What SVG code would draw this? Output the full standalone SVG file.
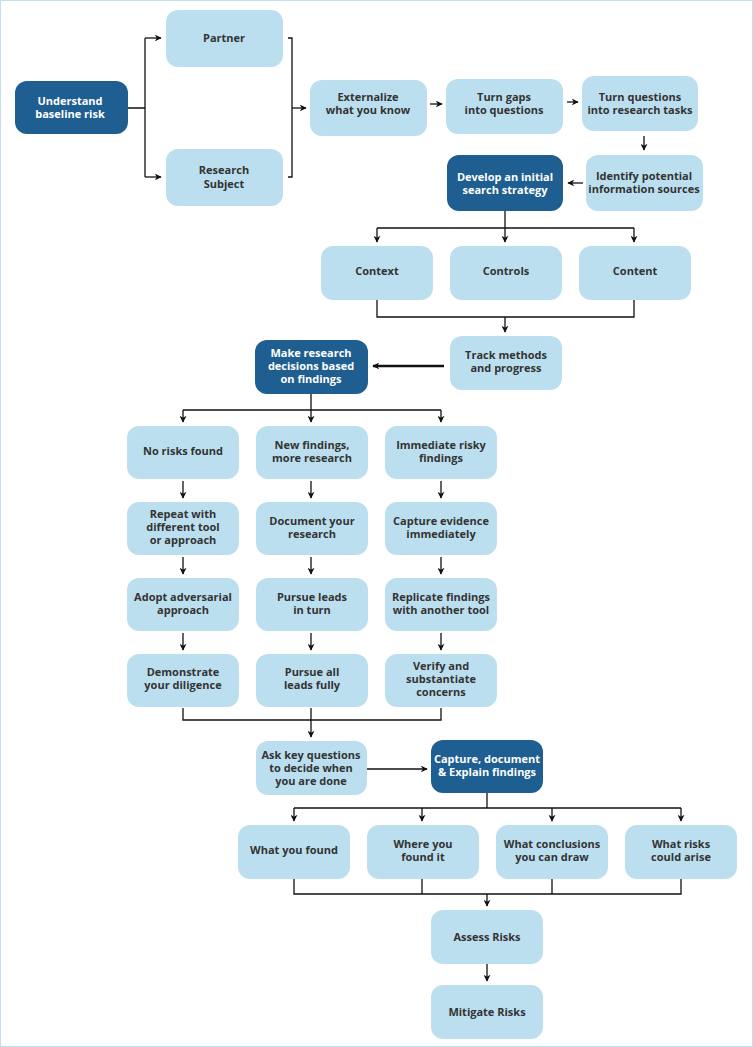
<svg xmlns="http://www.w3.org/2000/svg" width="753" height="1047" viewBox="0 0 753 1047">
<defs>
<marker id="a" viewBox="0 0 10 10" refX="9" refY="5" markerWidth="7" markerHeight="7" orient="auto" markerUnits="userSpaceOnUse"><path d="M0,0 L10,5 L0,10 L3,5 z" fill="#111"/></marker>
<style>
.l rect{fill:#bcdff0}
.d rect{fill:#1f5e90}
text{font-family:"Open Sans","Liberation Sans",sans-serif;font-size:11px;font-weight:bold;text-anchor:middle}
.l text{fill:#333}
.d text{fill:#fff}
#c path{fill:none;stroke:#111;stroke-width:1.3}
#c .m{marker-end:url(#a)}
</style>
</defs>
<rect x="0.5" y="0.5" width="752" height="1046" fill="#fff" stroke="#bfe0ef"/>
<g id="c">
<path d="M128,108H145M145,38V177"/>
<path class="m" d="M145,38H161"/><path class="m" d="M145,177H161"/>
<path d="M288,38H292V177H288"/><path class="m" d="M292,108H306"/>
<path class="m" d="M430,104H442"/><path class="m" d="M567,102H578"/>
<path class="m" d="M644,136V150"/><path class="m" d="M583,183H568"/>
<path d="M505,211V228M377,228H634"/>
<path class="m" d="M377,228V242"/><path class="m" d="M505,228V242"/><path class="m" d="M634,228V242"/>
<path d="M377,300V317H634V300"/><path class="m" d="M505,317V332"/>
<path class="m" d="M444,366H373" style="stroke-width:2.5"/>
<path d="M311,394V410M183,410H441"/>
<path class="m" d="M183,410V422"/><path class="m" d="M311,410V422"/><path class="m" d="M441,410V422"/>
<path class="m" d="M183,481V498"/><path class="m" d="M311,481V498"/><path class="m" d="M441,481V498"/>
<path class="m" d="M183,557V574"/><path class="m" d="M311,557V574"/><path class="m" d="M441,557V574"/>
<path class="m" d="M183,633V650"/><path class="m" d="M311,633V650"/><path class="m" d="M441,633V650"/>
<path d="M183,708V720H441V708"/><path class="m" d="M311,708V737"/>
<path class="m" d="M367,769H427"/>
<path d="M487,793V808M294,808H681"/>
<path class="m" d="M294,808V821"/><path class="m" d="M422,808V821"/><path class="m" d="M552,808V821"/><path class="m" d="M681,808V821"/>
<path d="M294,879V894H681V879M422,879V894M552,879V894"/><path class="m" d="M487,894V906"/>
<path class="m" d="M487,964V981"/>
</g>
<g id="n1" class="d"><rect x="15" y="81" width="113" height="53" rx="12"/><text x="70" y="105">Understand</text><text x="70" y="118">baseline risk</text></g>
<g id="n2" class="l"><rect x="166" y="10" width="117" height="57" rx="12"/><text x="224" y="42">Partner</text></g>
<g id="n3" class="l"><rect x="166" y="149" width="117" height="57" rx="12"/><text x="224" y="174">Research</text><text x="224" y="188">Subject</text></g>
<g id="n4" class="l"><rect x="310" y="80" width="117" height="56" rx="12"/><text x="368" y="101">Externalize</text><text x="368" y="114">what you know</text></g>
<g id="n5" class="l"><rect x="446" y="79" width="117" height="55" rx="12"/><text x="504" y="101">Turn gaps</text><text x="504" y="114">into questions</text></g>
<g id="n6" class="l"><rect x="582" y="76" width="116" height="55" rx="12"/><text x="640" y="101">Turn questions</text><text x="640" y="114">into research tasks</text></g>
<g id="n7" class="l"><rect x="586" y="155" width="117" height="56" rx="12"/><text x="644" y="180">Identify potential</text><text x="644" y="193">information sources</text></g>
<g id="n8" class="d"><rect x="447" y="155" width="116" height="56" rx="12"/><text x="505" y="181">Develop an initial</text><text x="505" y="194">search strategy</text></g>
<g id="n9" class="l"><rect x="321" y="246" width="112" height="54" rx="12"/><text x="377" y="275">Context</text></g>
<g id="n10" class="l"><rect x="450" y="246" width="112" height="54" rx="12"/><text x="506" y="275">Controls</text></g>
<g id="n11" class="l"><rect x="579" y="246" width="112" height="54" rx="12"/><text x="635" y="275">Content</text></g>
<g id="n12" class="l"><rect x="450" y="336" width="112" height="54" rx="12"/><text x="506" y="359">Track methods</text><text x="506" y="372">and progress</text></g>
<g id="n13" class="d"><rect x="255" y="340" width="113" height="54" rx="12"/><text x="311" y="357">Make research</text><text x="311" y="370">decisions based</text><text x="311" y="383">on findings</text></g>
<g id="n14" class="l"><rect x="127" y="426" width="112" height="53" rx="12"/><text x="183" y="455">No risks found</text></g>
<g id="n15" class="l"><rect x="256" y="426" width="112" height="53" rx="12"/><text x="312" y="449">New findings,</text><text x="312" y="462">more research</text></g>
<g id="n16" class="l"><rect x="385" y="426" width="112" height="53" rx="12"/><text x="441" y="449">Immediate risky</text><text x="441" y="462">findings</text></g>
<g id="n17" class="l"><rect x="127" y="502" width="112" height="53" rx="12"/><text x="183" y="518">Repeat with</text><text x="183" y="531">different tool</text><text x="183" y="544">or approach</text></g>
<g id="n18" class="l"><rect x="256" y="502" width="112" height="53" rx="12"/><text x="312" y="525">Document your</text><text x="312" y="538">research</text></g>
<g id="n19" class="l"><rect x="385" y="502" width="112" height="53" rx="12"/><text x="441" y="525">Capture evidence</text><text x="441" y="538">immediately</text></g>
<g id="n20" class="l"><rect x="127" y="578" width="112" height="53" rx="12"/><text x="183" y="601">Adopt adversarial</text><text x="183" y="614">approach</text></g>
<g id="n21" class="l"><rect x="256" y="578" width="112" height="53" rx="12"/><text x="312" y="601">Pursue leads</text><text x="312" y="614">in turn</text></g>
<g id="n22" class="l"><rect x="385" y="578" width="112" height="53" rx="12"/><text x="441" y="601">Replicate findings</text><text x="441" y="614">with another tool</text></g>
<g id="n23" class="l"><rect x="127" y="654" width="112" height="53" rx="12"/><text x="183" y="676">Demonstrate</text><text x="183" y="689">your diligence</text></g>
<g id="n24" class="l"><rect x="256" y="654" width="112" height="53" rx="12"/><text x="312" y="676">Pursue all</text><text x="312" y="689">leads fully</text></g>
<g id="n25" class="l"><rect x="385" y="654" width="112" height="53" rx="12"/><text x="441" y="670">Verify and</text><text x="441" y="683">substantiate</text><text x="441" y="696">concerns</text></g>
<g id="n26" class="l"><rect x="256" y="741" width="111" height="54" rx="12"/><text x="311" y="759">Ask key questions</text><text x="311" y="772">to decide when</text><text x="311" y="785">you are done</text></g>
<g id="n27" class="d"><rect x="431" y="740" width="112" height="53" rx="12"/><text x="487" y="763">Capture, document</text><text x="487" y="776">&amp; Explain findings</text></g>
<g id="n28" class="l"><rect x="238" y="825" width="112" height="54" rx="12"/><text x="294" y="854">What you found</text></g>
<g id="n29" class="l"><rect x="367" y="825" width="112" height="54" rx="12"/><text x="423" y="848">Where you</text><text x="423" y="861">found it</text></g>
<g id="n30" class="l"><rect x="496" y="825" width="112" height="54" rx="12"/><text x="552" y="848">What conclusions</text><text x="552" y="861">you can draw</text></g>
<g id="n31" class="l"><rect x="625" y="825" width="112" height="54" rx="12"/><text x="681" y="848">What risks</text><text x="681" y="861">could arise</text></g>
<g id="n32" class="l"><rect x="431" y="910" width="112" height="54" rx="12"/><text x="487" y="941">Assess Risks</text></g>
<g id="n33" class="l"><rect x="431" y="985" width="112" height="54" rx="12"/><text x="487" y="1016">Mitigate Risks</text></g>
</svg>
